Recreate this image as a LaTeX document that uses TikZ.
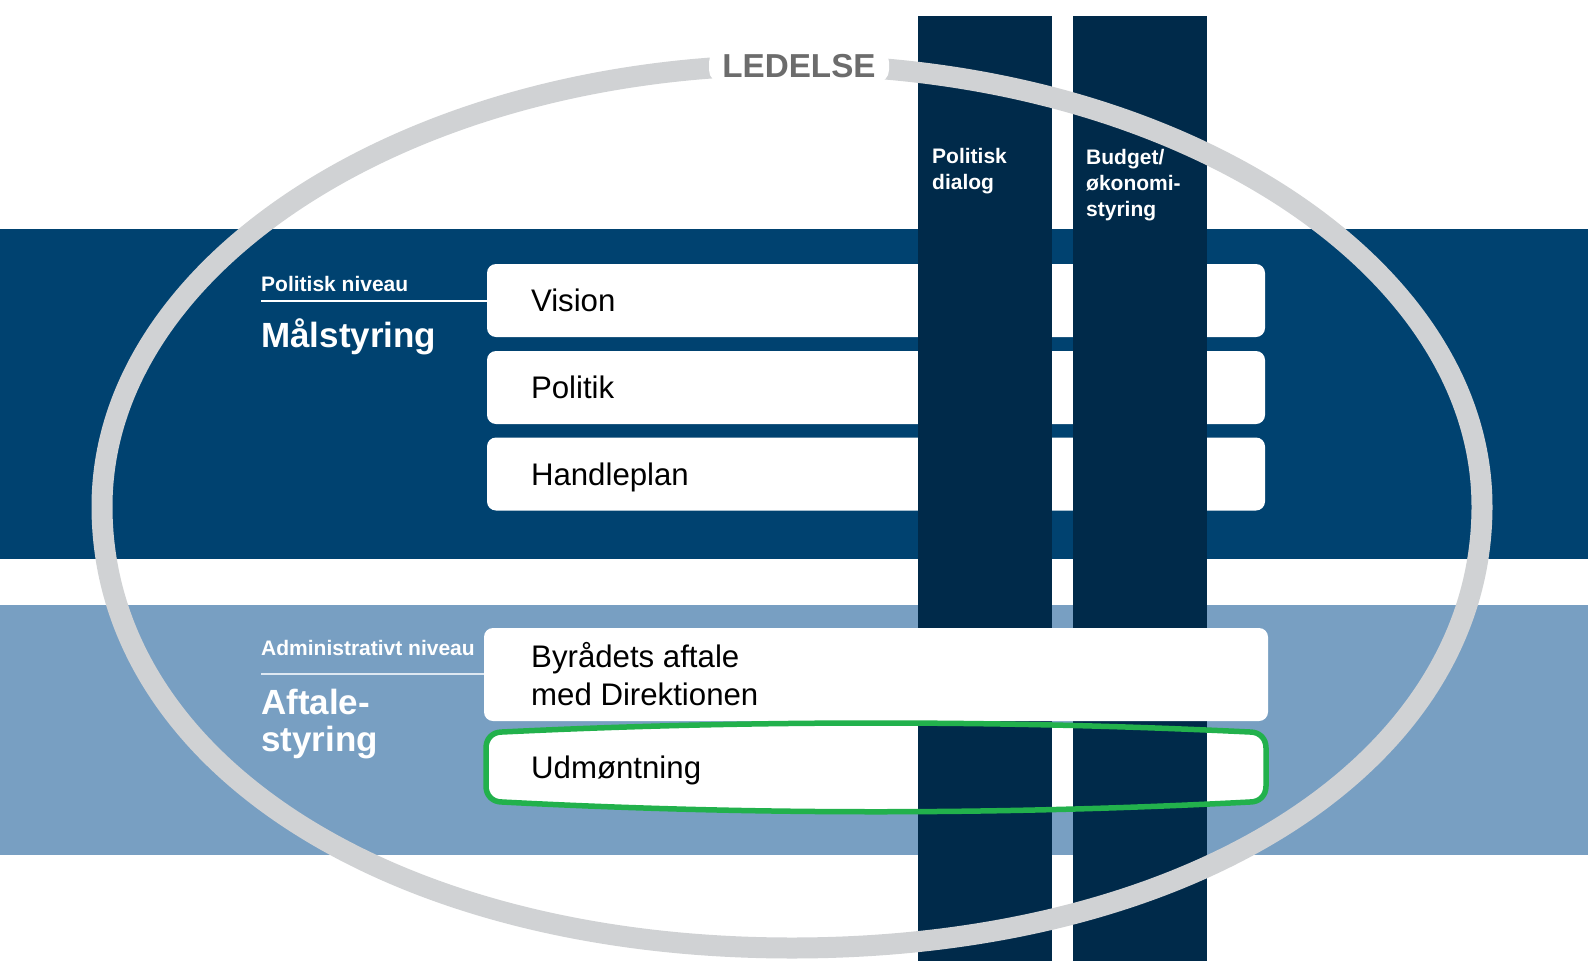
\documentclass[tikz,border=0pt]{standalone}
\usepackage{fontspec}
\setmainfont{Liberation Sans}
\definecolor{bandDark}{RGB}{0,66,112}
\definecolor{bandLight}{RGB}{120,159,194}
\definecolor{colDark}{RGB}{0,42,74}
\definecolor{ringGray}{RGB}{208,210,212}
\definecolor{txtGray}{RGB}{108,108,108}
\definecolor{markGreen}{RGB}{34,177,76}
\definecolor{lineLight}{RGB}{222,232,242}
\begin{document}
\begin{tikzpicture}[x=1pt,y=-1pt,
  wbox/.style={fill=white, rounded corners=9pt, inner sep=0pt, minimum width=778pt, minimum height=73pt},
  boxtxt/.style={font=\fontsize{31.2}{37}\selectfont, text=black, inner sep=0pt, anchor=base west},
  lvltxt/.style={font=\bfseries\fontsize{21}{25}\selectfont, text=white, inner sep=0pt, anchor=base west},
  bigtxt/.style={font=\bfseries\fontsize{35}{40}\selectfont, text=white, inner sep=0pt, anchor=base west},
  coltxt/.style={font=\bfseries\fontsize{21}{26}\selectfont, text=white, inner sep=0pt, anchor=base west},
  ring/.style={draw=ringGray, line width=21pt}
]
\useasboundingbox (0,0) rectangle (1588,961);
\fill[white] (0,0) rectangle (1588,961);
% bands
\fill[bandDark] (0,229) rectangle (1588,559);
\fill[bandLight] (0,605) rectangle (1588,855);
% level labels
\node[lvltxt] (polniv) at (261,291) {Politisk niveau};
\node[bigtxt] (malst) at (261,347) {Målstyring};
\node[lvltxt] (admniv) at (261,655) {Administrativt niveau};
\node[bigtxt] (aft1) at (261,714) {Aftale-};
\node[bigtxt] (aft2) at (261,751) {styring};
% boxes
\node[wbox] (vision) at (876,300.5) {};
\node[wbox] (politik) at (876,387.5) {};
\node[wbox] (handle) at (876,474) {};
\coordinate (l1s) at (261,301);
\coordinate (l2s) at (261,673.5);
\draw[white, line width=2pt] (l1s) -- (l1s -| vision.west);
\draw[lineLight, line width=2pt] (l2s) -- (484,673.5);
% Udmontning fill
\fill[white] (486,748) .. controls (486,739) and (492,732) .. (502,732)
  .. controls (750,720) and (1002,720) .. (1250,732)
  .. controls (1260,732) and (1266,739) .. (1266,748) -- (1266,786)
  .. controls (1266,795) and (1260,802) .. (1250,802)
  .. controls (1002,815) and (750,815) .. (502,802)
  .. controls (492,802) and (486,795) .. (486,786) -- cycle;
% columns
\fill[colDark] (918,16) rectangle (1052,961);
\fill[colDark] (1073,16) rectangle (1207,961);
% Byraadets box above columns
\node[wbox, minimum width=784pt, minimum height=93pt] (byr) at (876,674.5) {};
% green outline
\draw[markGreen, line width=5.5pt] (486,748) .. controls (486,739) and (492,732) .. (502,732)
  .. controls (750,720) and (1002,720) .. (1250,732)
  .. controls (1260,732) and (1266,739) .. (1266,748) -- (1266,786)
  .. controls (1266,795) and (1260,802) .. (1250,802)
  .. controls (1002,815) and (750,815) .. (502,802)
  .. controls (492,802) and (486,795) .. (486,786) -- cycle;
\node[inner sep=0pt, minimum width=780pt, minimum height=80pt] (udm) at (876,767) {};
% ring
\draw[ring] (102,506.5) .. controls (102,262.7) and (410.9,65) .. (792,65)
  .. controls (1173.1,65) and (1482,262.7) .. (1482,506.5)
  .. controls (1482,762.6) and (1192,948) .. (792,948)
  .. controls (392,948) and (102,762.6) .. (102,506.5) -- cycle;
\node[fill=white, rounded corners=13pt, minimum width=180pt, minimum height=34pt, inner sep=0pt,
  text=txtGray, font=\bfseries\fontsize{33.2}{37}\selectfont] (ledelse) at (799,66) {LEDELSE};
% column texts
\node[coltxt] (c1a) at (932,163) {Politisk};
\node[coltxt] (c1b) at (932,189) {dialog};
\node[coltxt] (c2a) at (1086,164) {Budget/};
\node[coltxt] (c2b) at (1086,190) {økonomi-};
\node[coltxt] (c2c) at (1086,216) {styring};
% box texts
\node[boxtxt] (visiont) at ([xshift=44pt,yshift=-11pt]vision.west) {Vision};
\node[boxtxt] (politikt) at ([xshift=44pt,yshift=-11pt]politik.west) {Politik};
\node[boxtxt] (handlet) at ([xshift=44pt,yshift=-11pt]handle.west) {Handleplan};
\node[boxtxt] (byrt1) at (531,667) {Byrådets aftale};
\node[boxtxt] (byrt2) at (531,705) {med Direktionen};
\node[boxtxt] (udmt) at (531,778) {Udmøntning};
\end{tikzpicture}
\end{document}
